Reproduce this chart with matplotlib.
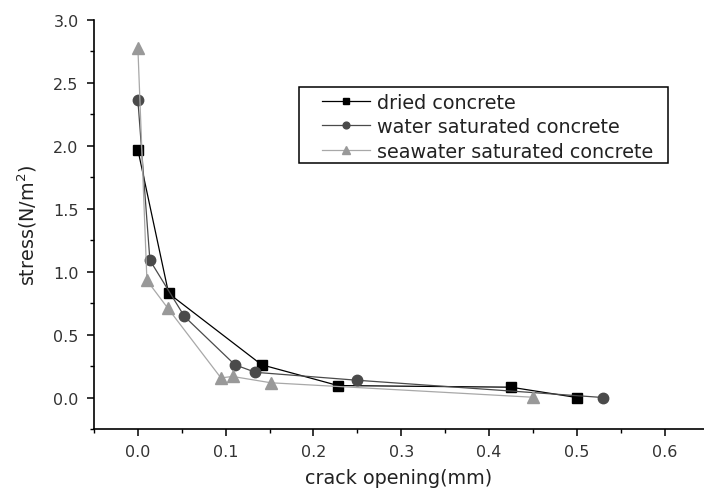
import matplotlib
matplotlib.use("Agg")
import matplotlib.pyplot as plt
from matplotlib.patches import Rectangle
from matplotlib.ticker import MultipleLocator

# crack opening (mm) vs stress (N/m^2)
dried_x = [0.0, 0.035, 0.141, 0.228, 0.425, 0.500]
dried_y = [1.967, 0.827, 0.26, 0.095, 0.082, 0.0]

water_x = [0.0, 0.0137, 0.053, 0.1105, 0.134, 0.250, 0.530]
water_y = [2.36, 1.09, 0.644, 0.26, 0.20, 0.137, 0.0]

sea_x = [0.0, 0.0103, 0.034, 0.0946, 0.108, 0.1516, 0.4505]
sea_y = [2.775, 0.93, 0.71, 0.156, 0.167, 0.117, 0.002]

labels = ["dried concrete", "water saturated concrete", "seawater saturated concrete"]

plt.rcParams['font.family'] = ['DejaVu Sans']

W, H = 704, 489
fig = plt.figure(figsize=(W / 100, H / 100), dpi=100)
ax = fig.add_axes([94 / W, 59 / H, 610 / W, 409.3 / H])

ax.plot(dried_x, dried_y, color='black', lw=0.9, marker='s', ms=7,
        mfc='black', mec='black', label=labels[0])
ax.plot(water_x, water_y, color='#4a4a4a', lw=0.9, marker='o', ms=7.5,
        mfc='#4a4a4a', mec='#4a4a4a', label=labels[1])
ax.plot(sea_x, sea_y, color='#a8a8a8', lw=0.9, marker='^', ms=9,
        mfc='#999999', mec='#999999', label=labels[2])

ax.set_xlim(-0.05, 0.645)
ax.set_ylim(-0.25, 3.0)
ax.xaxis.set_minor_locator(MultipleLocator(0.05))
ax.yaxis.set_minor_locator(MultipleLocator(0.25))
ax.set_xticks([0.0, 0.1, 0.2, 0.3, 0.4, 0.5, 0.6])
ax.set_xticklabels(["0.0", "0.1", "0.2", "0.3", "0.4", "0.5", "0.6"])
ax.set_yticks([0.0, 0.5, 1.0, 1.5, 2.0, 2.5, 3.0])
ax.set_yticklabels(["0.0", "0.5", "1.0", "1.5", "2.0", "2.5", "3.0"])

for side in ['top', 'right']:
    ax.spines[side].set_visible(False)
for side in ['left', 'bottom']:
    ax.spines[side].set_linewidth(1.2)

ax.tick_params(which='major', direction='out', length=5, width=1.1,
               labelsize=11.5, labelcolor='#333333', pad=6)
ax.tick_params(which='minor', direction='out', length=3, width=1.0)

ax.set_xlabel("crack opening(mm)", fontsize=13.8, color='#222222', labelpad=6)
ax.set_ylabel("stress(N/m$^2$)", fontsize=13.8, color='#222222', labelpad=10)

# legend without its own frame, the box is drawn by hand so the
# entries can sit further in from the left edge like the original
leg = ax.legend(loc='upper left', bbox_to_anchor=(318 / W, 1 - 90 / H),
                bbox_transform=fig.transFigure, fontsize=13.8, frameon=False,
                borderaxespad=0, borderpad=0.2, handlelength=2.5,
                handletextpad=0.4, labelspacing=0.28, markerscale=0.65)
for t in leg.get_texts():
    t.set_color('#222222')

fig.canvas.draw()
bb = leg.get_window_extent()
left, top = 299, H - 87.5
right = bb.x1 + 10
bottom = H - 164
fig.patches.append(Rectangle((left / W, bottom / H), (right - left) / W,
                             (top - bottom) / H, transform=fig.transFigure,
                             fill=False, edgecolor='black', lw=1.1))

fig.savefig("out.png", dpi=100, facecolor='white')
